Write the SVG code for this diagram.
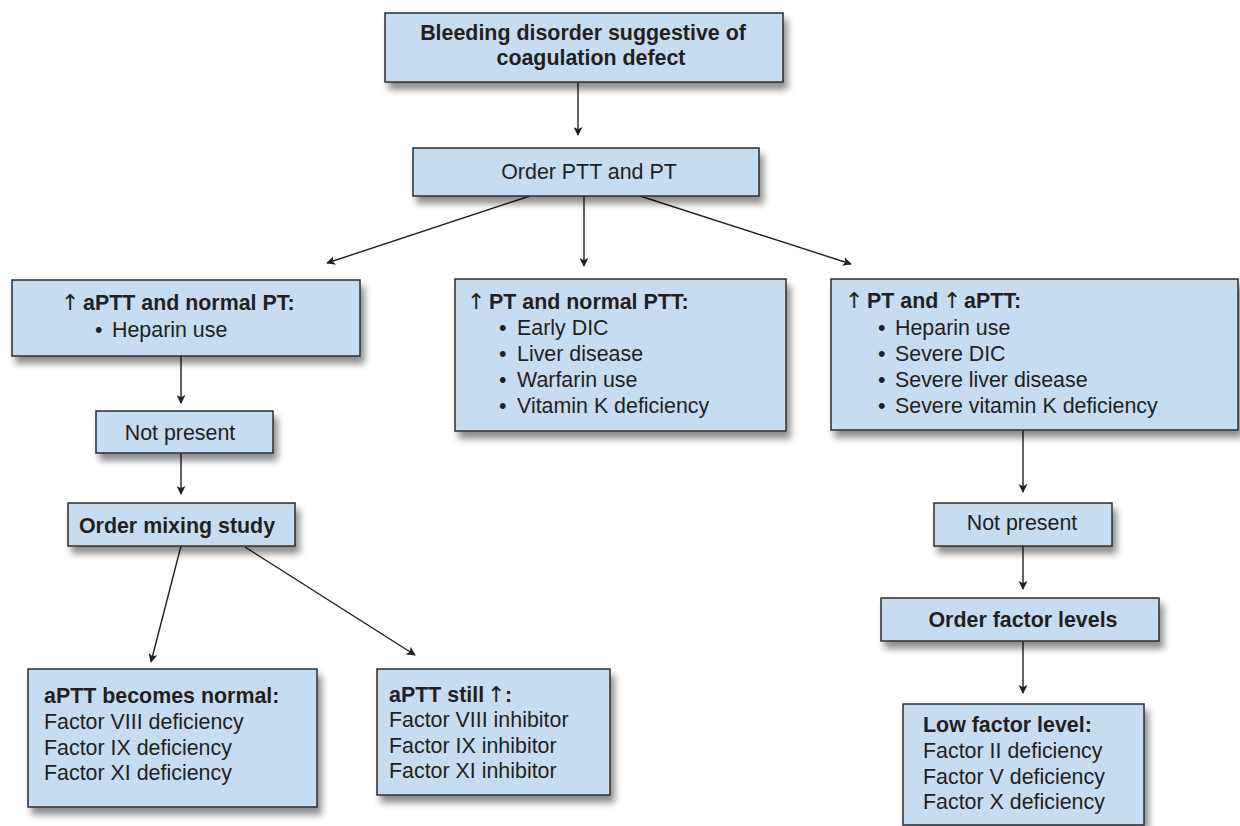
<svg xmlns="http://www.w3.org/2000/svg" width="1240" height="826" viewBox="0 0 1240 826">
  <defs>
    <filter id="shadow" x="-10%" y="-10%" width="130%" height="150%">
      <feDropShadow dx="4" dy="7" stdDeviation="3.5" flood-color="#000" flood-opacity="0.45"/>
    </filter>
    <marker id="arrow" viewBox="0 0 10 10" refX="9" refY="5" markerWidth="9" markerHeight="9" markerUnits="userSpaceOnUse" orient="auto">
      <path d="M0,0 L10,5 L0,10 L2.5,5 Z" fill="#231f20"/>
    </marker>
    <style>
      .box { fill: #c6ddf1; stroke: #2b2b2b; stroke-width: 1.5; filter: url(#shadow); }
      text { font-family: "Liberation Sans", Arial, Helvetica, sans-serif; font-size: 21.4px; fill: #231f20; }
      .b { font-weight: bold; }
      .up { font-weight: normal; font-family: "DejaVu Sans", "Liberation Sans", sans-serif; font-size: 22px; }
      .c { text-anchor: middle; }
      .conn line { stroke: #231f20; stroke-width: 1.4; marker-end: url(#arrow); }
    </style>
  </defs>

  <rect width="1240" height="826" fill="#ffffff"/>

  <!-- connectors -->
  <g id="connectors" class="conn">
    <line x1="578" y1="82" x2="578" y2="135"/>
    <line x1="530" y1="196" x2="327" y2="263"/>
    <line x1="584" y1="196" x2="584" y2="266"/>
    <line x1="640" y1="196" x2="851" y2="264"/>
    <line x1="181" y1="356" x2="181" y2="403"/>
    <line x1="181" y1="453" x2="181" y2="494"/>
    <line x1="181" y1="546" x2="151" y2="662"/>
    <line x1="245" y1="547" x2="415" y2="655"/>
    <line x1="1023" y1="430" x2="1023" y2="492"/>
    <line x1="1023" y1="546" x2="1023" y2="589"/>
    <line x1="1023" y1="641" x2="1023" y2="693"/>
  </g>

  <!-- start -->
  <g id="start">
    <rect class="box" x="385" y="13" width="398" height="69"/>
    <text class="b c" x="583" y="40">Bleeding disorder suggestive of</text>
    <text class="b c" x="591" y="65">coagulation defect</text>
  </g>

  <g id="order-ptt-pt">
    <rect class="box" x="413" y="148" width="346" height="48"/>
    <text class="c" x="589" y="179">Order PTT and PT</text>
  </g>

  <!-- left branch -->
  <g id="aptt-normal-pt">
    <rect class="box" x="12" y="280" width="348" height="76"/>
    <text class="up" x="61" y="310">↑</text>
    <text class="b" x="83" y="310">aPTT and normal PT:</text>
    <text x="95" y="337">•</text>
    <text x="112" y="337">Heparin use</text>
  </g>

  <g id="not-present-left">
    <rect class="box" x="96" y="411" width="177" height="42"/>
    <text class="c" x="180" y="440">Not present</text>
  </g>

  <g id="mixing-study">
    <rect class="box" x="68" y="503" width="227" height="43"/>
    <text class="b c" x="177" y="533">Order mixing study</text>
  </g>

  <g id="aptt-becomes-normal">
    <rect class="box" x="28" y="669" width="289" height="138"/>
    <text class="b" x="44" y="703">aPTT becomes normal:</text>
    <text x="44" y="729">Factor VIII deficiency</text>
    <text x="44" y="755">Factor IX deficiency</text>
    <text x="44" y="780">Factor XI deficiency</text>
  </g>

  <g id="aptt-still-up">
    <rect class="box" x="377" y="669" width="233" height="126"/>
    <text class="b" x="389" y="702">aPTT still</text>
    <text class="up" x="487" y="702">↑</text>
    <text class="b" x="505" y="702">:</text>
    <text x="389" y="727">Factor VIII inhibitor</text>
    <text x="389" y="753">Factor IX inhibitor</text>
    <text x="389" y="778">Factor XI inhibitor</text>
  </g>

  <!-- middle branch -->
  <g id="pt-normal-ptt">
    <rect class="box" x="455" y="279" width="331" height="152"/>
    <text class="up" x="467" y="309">↑</text>
    <text class="b" x="489" y="309">PT and normal PTT:</text>
    <text x="499" y="335">•</text><text x="517" y="335">Early DIC</text>
    <text x="499" y="361">•</text><text x="517" y="361">Liver disease</text>
    <text x="499" y="387">•</text><text x="517" y="387">Warfarin use</text>
    <text x="499" y="413">•</text><text x="517" y="413">Vitamin K deficiency</text>
  </g>

  <!-- right branch -->
  <g id="pt-and-aptt">
    <rect class="box" x="831" y="279" width="407" height="151"/>
    <text class="up" x="845" y="308">↑</text>
    <text class="b" x="867" y="308">PT and</text>
    <text class="up" x="943" y="308">↑</text>
    <text class="b" x="964" y="308">aPTT:</text>
    <text x="878" y="335">•</text><text x="895" y="335">Heparin use</text>
    <text x="878" y="361">•</text><text x="895" y="361">Severe DIC</text>
    <text x="878" y="387">•</text><text x="895" y="387">Severe liver disease</text>
    <text x="878" y="413">•</text><text x="895" y="413">Severe vitamin K deficiency</text>
  </g>

  <g id="not-present-right">
    <rect class="box" x="934" y="503" width="178" height="43"/>
    <text class="c" x="1022" y="530">Not present</text>
  </g>

  <g id="factor-levels">
    <rect class="box" x="881" y="598" width="278" height="43"/>
    <text class="b c" x="1023" y="627">Order factor levels</text>
  </g>

  <g id="low-factor-level">
    <rect class="box" x="903" y="704" width="241" height="121"/>
    <text class="b" x="923" y="732">Low factor level:</text>
    <text x="923" y="758">Factor II deficiency</text>
    <text x="923" y="784">Factor V deficiency</text>
    <text x="923" y="809">Factor X deficiency</text>
  </g>
</svg>
